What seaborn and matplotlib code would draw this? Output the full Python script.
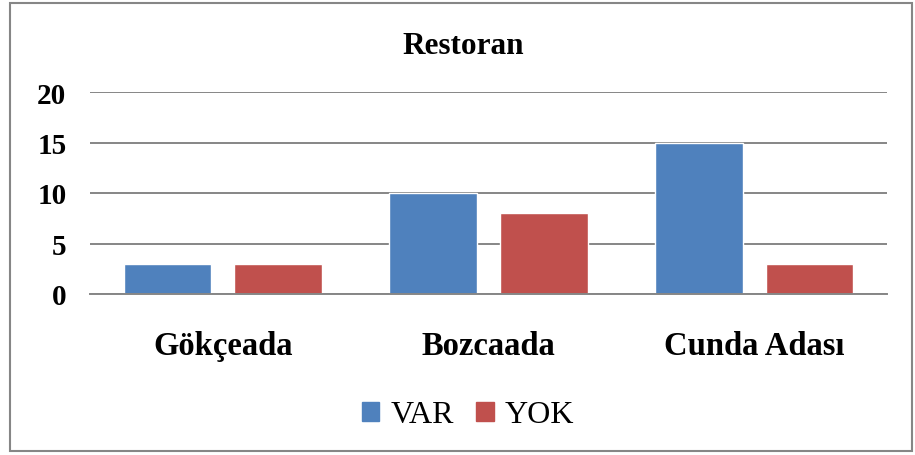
import pandas as pd
import seaborn as sns
import matplotlib.pyplot as plt
from matplotlib.patches import Rectangle

# Chart data
islands = ['Gökçeada', 'Bozcaada', 'Cunda Adası']
var_counts = [3, 10, 15]
yok_counts = [3, 8, 3]
series = ['VAR', 'YOK']
yticks = [0, 5, 10, 15, 20]

df = pd.DataFrame({
    'Ada': islands * 2,
    'Durum': ['VAR'] * len(islands) + ['YOK'] * len(islands),
    'Sayi': var_counts + yok_counts,
})

colors = {'VAR': '#4F81BD', 'YOK': '#C0504D'}

sns.set_style('white')
plt.rcParams['font.family'] = ['Liberation Serif', 'DejaVu Serif']
plt.rcParams['text.color'] = 'black'
plt.rcParams['xtick.color'] = 'black'
plt.rcParams['ytick.color'] = 'black'

fig = plt.figure(figsize=(9.15, 4.56), dpi=100)
ax = fig.add_axes([90 / 915, 1 - 295 / 456, (887 - 90) / 915, (295 - 93) / 456])

sns.barplot(data=df, x='Ada', y='Sayi', hue='Durum', hue_order=series, order=islands,
            palette=colors, width=0.835, gap=0.21, saturation=1, ax=ax, legend=False)

ax.set_ylim(0, 20)
ax.set_yticks(yticks)
ax.yaxis.grid(True, color='#868686', linewidth=1.4)
ax.set_axisbelow(True)
for side in ['top', 'right', 'left']:
    ax.spines[side].set_visible(False)
ax.spines['bottom'].set_color('#868686')
ax.spines['bottom'].set_linewidth(1.4)
ax.tick_params(axis='y', length=0, pad=17, labelsize=21)
ax.tick_params(axis='x', length=0, pad=26, labelsize=23.5)
for lbl in ax.get_xticklabels() + ax.get_yticklabels():
    lbl.set_fontweight('bold')
ax.set_xlabel('')
ax.set_ylabel('')

fig.text(463 / 915, 1 - 46 / 456, 'Restoran', ha='center', va='center', fontsize=22.5, fontweight='bold')

handles = [Rectangle((0, 0), 1, 1, color=colors[s]) for s in series]
fig.legend(handles, series, loc='center', bbox_to_anchor=(468 / 915, 1 - 416 / 456), ncol=2,
           frameon=False, fontsize=23, handlelength=0.55, handleheight=0.55,
           handletextpad=0.35, columnspacing=0.7, borderpad=0)

# outer chart border
fig.patches.append(Rectangle((10 / 915, 4 / 456), 902 / 915, 448 / 456, transform=fig.transFigure,
                             fill=False, edgecolor='#868686', linewidth=1.5))

fig.savefig('out.png', dpi=100)
